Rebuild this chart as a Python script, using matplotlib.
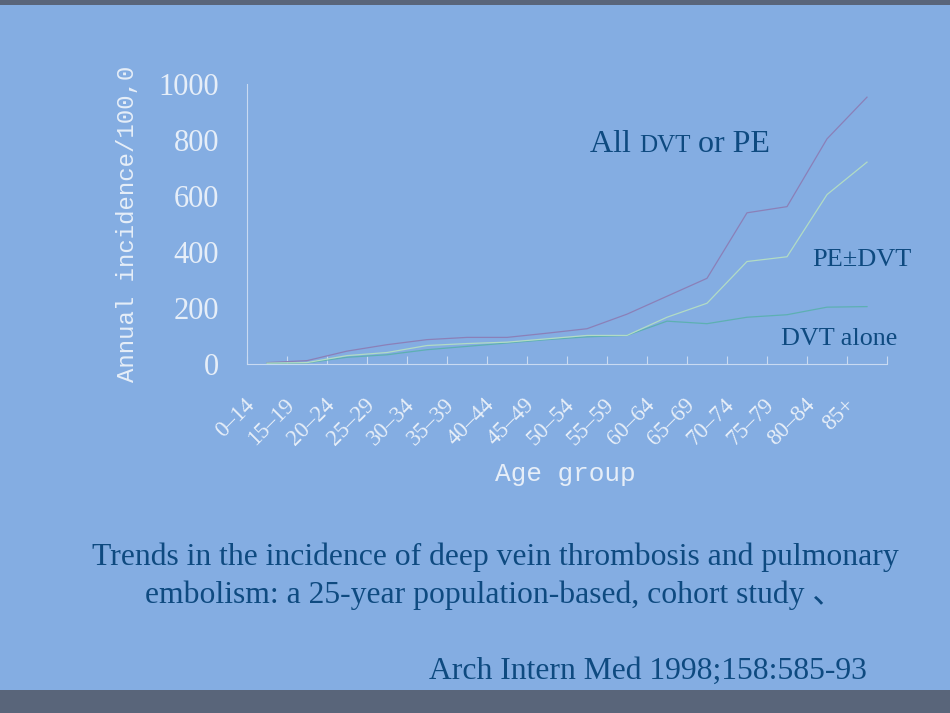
import matplotlib
matplotlib.use("Agg")
import matplotlib.pyplot as plt
from matplotlib.transforms import ScaledTranslation
from matplotlib.patches import Rectangle
import numpy as np

age_groups = ["0–14", "15–19", "20–24", "25–29", "30–34", "35–39", "40–44", "45–49",
              "50–54", "55–59", "60–64", "65–69", "70–74", "75–79", "80–84", "85+"]
all_dvt_pe = [5, 12, 46, 69, 87, 95, 95, 110, 126, 178, 242, 306, 540, 562, 804, 953]
pe_dvt = [3, 5, 30, 41, 66, 73, 78, 90, 102, 102, 167, 217, 366, 383, 605, 721]
dvt_alone = [2, 4, 24, 33, 51, 63, 75, 87, 97, 102, 153, 144, 167, 176, 203, 205]
y_ticks = [0, 200, 400, 600, 800, 1000]

BG = "#84ADE2"
BAR = "#59657A"
LIGHT = "#E6EEF8"
DARK = "#0E4A80"

fig = plt.figure(figsize=(9.5, 7.13), dpi=100)
fig.patch.set_facecolor(BG)
fig.patches.append(Rectangle((0, 1 - 5 / 713), 1, 5 / 713, transform=fig.transFigure,
                             facecolor=BAR, edgecolor="none"))
fig.patches.append(Rectangle((0, 0), 1, 23 / 713, transform=fig.transFigure,
                             facecolor=BAR, edgecolor="none"))

ax = fig.add_axes([247 / 950, 1 - 364 / 713, 640 / 950, 280 / 713])
ax.set_facecolor("none")
x = np.arange(len(age_groups))
ax.plot(x, all_dvt_pe, color="#8B80B8", lw=0.9)
ax.plot(x, dvt_alone, color="#5DB0B2", lw=0.9)
ax.plot(x, pe_dvt, color="#B2DCC4", lw=0.9)

ax.set_xlim(-0.5, len(age_groups) - 0.5)
ax.set_ylim(0, 1000)
for s in ["top", "right"]:
    ax.spines[s].set_visible(False)
for s in ["left", "bottom"]:
    ax.spines[s].set_color("#C9DAF2")
    ax.spines[s].set_linewidth(0.8)

ax.set_yticks(y_ticks)
ax.set_yticklabels([str(v) for v in y_ticks], family="Liberation Serif", fontsize=22, color=LIGHT)
ax.tick_params(axis="y", length=0, pad=20)

ax.set_xticks(np.arange(len(age_groups) + 1) - 0.5, minor=False)
ax.set_xticklabels([])
ax.tick_params(axis="x", which="major", direction="in", length=6, color="#C9DAF2", width=0.8)
ax.set_xticks(x, minor=True)
ax.set_xticklabels(age_groups, minor=True, family="Liberation Serif", fontsize=16.5,
                   color=LIGHT, rotation=45, ha="right", va="top", rotation_mode="anchor")
ax.tick_params(axis="x", which="minor", length=0, pad=22)
off = ScaledTranslation(-23 / 100, 0, fig.dpi_scale_trans)
for lab in ax.get_xticklabels(minor=True):
    lab.set_transform(lab.get_transform() + off)

fig.text(128 / 950, 1 - 224 / 713, "Annual incidence/100,0", rotation=90, ha="center",
         va="center", family="Liberation Mono", fontsize=17.3, color=LIGHT)
fig.text(565 / 950, 1 - 474 / 713, "Age group", ha="center", va="center",
         family="Liberation Mono", fontsize=18.8, color=LIGHT)

# annotations
fig.canvas.draw()
r = fig.canvas.get_renderer()
t1 = fig.text(590 / 950, 1 - 145 / 713, "All ", ha="left", va="center",
              family="Liberation Serif", fontsize=23, color=DARK)
bb = t1.get_window_extent(r)
t2 = fig.text(bb.x1 / 950, 1 - 146.5 / 713, "DVT", ha="left", va="center",
              family="Liberation Serif", fontsize=18, color=DARK)
bb2 = t2.get_window_extent(r)
fig.text(bb2.x1 / 950, 1 - 145 / 713, " or PE", ha="left", va="center",
         family="Liberation Serif", fontsize=23, color=DARK)

fig.text(862 / 950, 1 - 260 / 713, "PE±DVT", ha="center", va="center",
         family="Liberation Serif", fontsize=19, color=DARK)
fig.text(839 / 950, 1 - 339 / 713, "DVT alone", ha="center", va="center",
         family="Liberation Serif", fontsize=18.8, color=DARK)

fig.text(495 / 950, 1 - 557 / 713,
         "Trends in the incidence of deep vein thrombosis and pulmonary",
         ha="center", va="center", family=["Liberation Serif", "Noto Sans CJK SC"],
         fontsize=22.8, color=DARK)
fig.text(495 / 950, 1 - 595 / 713,
         "embolism: a 25-year population-based, cohort study 、",
         ha="center", va="center", family=["Liberation Serif", "Noto Sans CJK SC"],
         fontsize=22.8, color=DARK)
fig.text(648 / 950, 1 - 671 / 713, "Arch Intern Med 1998;158:585-93",
         ha="center", va="center", family="Liberation Serif", fontsize=22.8, color=DARK)

fig.savefig("out.png", dpi=100, facecolor=BG)
